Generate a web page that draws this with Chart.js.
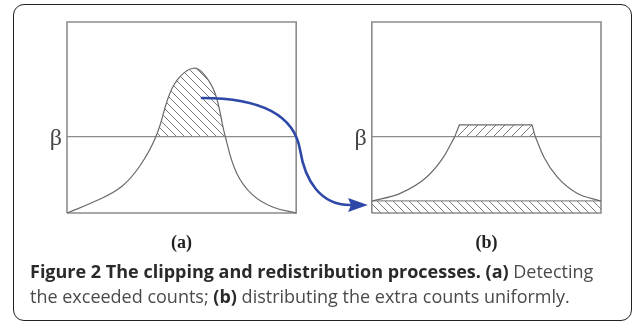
<!DOCTYPE html>
<html>
<head>
<meta charset="utf-8">
<script src="https://cdn.jsdelivr.net/npm/chart.js@4"></script>
<style>
  html, body { margin: 0; padding: 0; background: #fff; }
  #wrap { position: relative; width: 637px; height: 325px; overflow: hidden; }
  #frame {
    position: absolute; left: 13px; top: 4px; width: 617px; height: 315px;
    border: 1.6px solid #222; border-radius: 11px;
  }
  #fig { position: absolute; left: 0; top: 0; }
  #caption {
    position: absolute; left: 30px; top: 259px; width: 600px;
    font-family: "Open Sans", sans-serif; font-size: 18px; line-height: 25px;
    color: #4a4a4a; white-space: nowrap;
  }
  #caption b { color: #2a2a2a; font-weight: 700; }
</style>
</head>
<body>
<div id="wrap">
  <div id="frame"></div>
  <canvas id="fig" width="637" height="325"></canvas>
  <div id="caption">
    <b>Figure 2 The clipping and redistribution processes. (a)</b> Detecting<br>
    the exceeded counts; <b>(b)</b> distributing the extra counts uniformly.
  </div>
</div>
<script>
// panel (a) spans x 0..100, panel (b) spans x 133..233, both y 0..100
const panelA = [0, 100];
const panelB = [133, 233];
const beta = 40;

// histogram before clipping
const curveA = [
  [0, 0], [13, 6.5], [24, 14], [32, 25], [38.9, 40.3], [44.9, 62.7], [49.3, 71.4],
  [55.1, 75.8], [59.5, 73], [64.6, 62.7], [69, 40.3], [74, 21], [81, 9.5], [90, 3], [100, 0]
];

// histogram after clipping + redistribution
const baseB = 6.3;
const flankLeftB = [[133, 6.3], [145.4, 10.3], [157.1, 19], [164.4, 29.5], [169.2, 40]];
const plateauB = [[169.2, 40], [171.2, 46.1], [202.9, 46.1], [204.3, 40]];
const flankRightB = [[204.3, 40], [208, 29.5], [213.8, 19], [222.5, 10.3], [233, 6.3]];

const panelLabels = ['(a)', '(b)'];
const betaLabel = 'β';

// arrow from clipped part to the redistributed band (cubic segments)
const arrowPath = [
  [58.9, 60.2],
  [88.6, 60.2], [99.5, 48.7], [101.7, 33.0],
  [103.8, 17.3], [110.4, 4.2], [123.5, 4.2]
];
const arrowTip = [131.3, 4.2];

const pts = a => a.map(([x, y]) => ({ x, y }));
const box = ([x0, x1]) => pts([[x0, 0], [x0, 100], [x1, 100], [x1, 0], [x0, 0]]);

const canvas = document.getElementById('fig');
const ctx = canvas.getContext('2d');

function hatch(dir, size) {
  const c = document.createElement('canvas');
  c.width = c.height = size;
  const g = c.getContext('2d');
  g.strokeStyle = '#7a7a7a';
  g.lineWidth = 1;
  g.beginPath();
  if (dir === 'back') {
    g.moveTo(0, 0); g.lineTo(size, size);
    g.moveTo(-2, size - 2); g.lineTo(2, size + 2);
    g.moveTo(size - 2, -2); g.lineTo(size + 2, 2);
  } else {
    g.moveTo(0, size); g.lineTo(size, 0);
    g.moveTo(-2, 2); g.lineTo(2, -2);
    g.moveTo(size - 2, size + 2); g.lineTo(size + 2, size - 2);
  }
  g.stroke();
  return ctx.createPattern(c, 'repeat');
}

const frameColor = '#8c8c8c';
const curveColor = '#6a6a6a';
const none = 'rgba(0,0,0,0)';

const line = (data, extra) => Object.assign({
  data, showLine: true, fill: false, borderWidth: 1.2, borderColor: curveColor,
  pointRadius: 0, clip: false, cubicInterpolationMode: 'monotone'
}, extra);

const datasets = [
  line(pts(curveA), { cubicInterpolationMode: 'default', tension: 0.4,
    fill: { target: { value: beta }, above: hatch('back', 8), below: none } }),
  line(pts(flankLeftB)),
  line(pts(plateauB), { tension: 0, cubicInterpolationMode: 'default',
    fill: { target: { value: beta }, above: hatch('fwd', 9), below: none } }),
  line(pts(flankRightB)),
  line(pts([[panelB[0], baseB], [panelB[1], baseB]]), { borderColor: frameColor,
    fill: { target: { value: 0 }, above: hatch('back', 8), below: none } }),
  line(pts([[panelA[0], beta], [panelA[1], beta]]), { borderColor: frameColor }),
  line(pts([[panelB[0], beta], [panelB[1], beta]]), { borderColor: frameColor }),
  line(box(panelA), { tension: 0, borderColor: frameColor, borderWidth: 1.6 }),
  line(box(panelB), { tension: 0, borderColor: frameColor, borderWidth: 1.6 })
];

const annotations = {
  id: 'annotations',
  afterDatasetsDraw(chart) {
    const { ctx, scales: { x, y } } = chart;
    const px = p => [x.getPixelForValue(p[0]), y.getPixelForValue(p[1])];

    // beta labels and panel letters
    ctx.save();
    ctx.fillStyle = '#444';
    ctx.font = '24px "Liberation Serif", serif';
    ctx.textAlign = 'right';
    ctx.textBaseline = 'middle';
    [panelA, panelB].forEach(p => {
      ctx.fillText(betaLabel, x.getPixelForValue(p[0]) - 5, y.getPixelForValue(beta) + 2);
    });
    ctx.fillStyle = '#222';
    ctx.font = 'bold 18px "Liberation Serif", serif';
    ctx.textAlign = 'center';
    ctx.textBaseline = 'alphabetic';
    [panelA, panelB].forEach((p, i) => {
      const cx = (x.getPixelForValue(p[0]) + x.getPixelForValue(p[1])) / 2;
      ctx.fillText(panelLabels[i], cx, y.getPixelForValue(0) + 35);
    });

    // blue arrow
    ctx.strokeStyle = '#2d48a6';
    ctx.fillStyle = '#2d48a6';
    ctx.lineWidth = 2.6;
    ctx.lineCap = 'round';
    ctx.beginPath();
    ctx.moveTo(...px(arrowPath[0]));
    for (let i = 1; i + 2 < arrowPath.length; i += 3) {
      ctx.bezierCurveTo(...px(arrowPath[i]), ...px(arrowPath[i + 1]), ...px(arrowPath[i + 2]));
    }
    ctx.stroke();
    const [tx, ty] = px(arrowTip);
    const [bx, by] = px(arrowPath[arrowPath.length - 1]);
    ctx.beginPath();
    ctx.moveTo(tx, ty);
    ctx.lineTo(bx - 2, by - 7);
    ctx.lineTo(bx + 1, by);
    ctx.lineTo(bx - 2, by + 7);
    ctx.closePath();
    ctx.fill();
    ctx.restore();
  }
};

new Chart(canvas, {
  type: 'scatter',
  data: { datasets },
  options: {
    responsive: false,
    animation: false,
    events: [],
    layout: { padding: { left: 67, right: 36, top: 22, bottom: 112 } },
    scales: {
      x: { type: 'linear', min: 0, max: 233, display: false },
      y: { type: 'linear', min: 0, max: 100, display: false }
    },
    plugins: { legend: { display: false }, tooltip: { enabled: false } }
  },
  plugins: [annotations]
});
</script>
</body>
</html>
